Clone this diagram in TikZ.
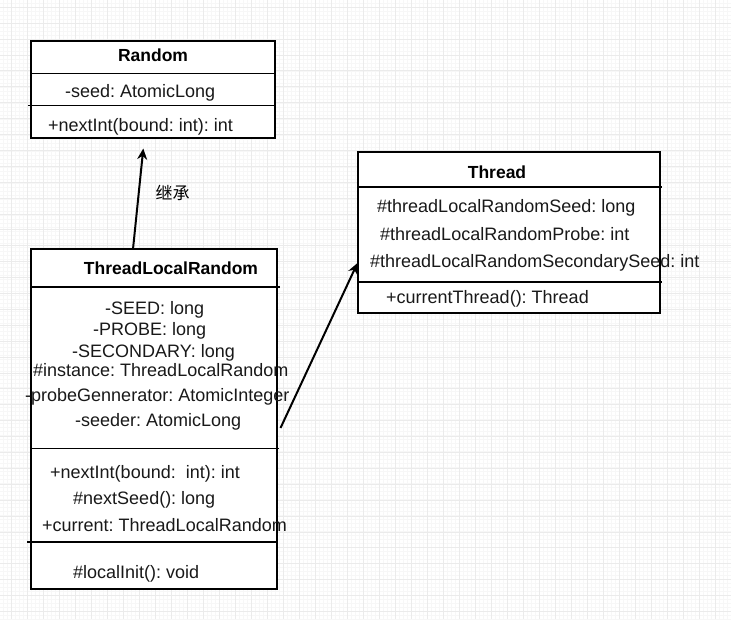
\documentclass[tikz,border=0pt]{standalone}
\usepackage{fontspec}
\setmainfont{Liberation Sans}
\newfontfamily\cjk{Noto Sans CJK SC}
\usetikzlibrary{arrows.meta}
\frenchspacing
\begin{document}
\begin{tikzpicture}[x=1pt,y=-1pt,
  umlbox/.style={draw=black,line width=2pt,fill=white,inner sep=0pt,minimum width=#1},
  sep/.style={draw=black,line width=1.6pt},
  txt/.style={anchor=base west,inner sep=0pt,font=\fontsize{18}{21}\selectfont\frenchspacing,text=black!90},
  ttl/.style={anchor=base,inner sep=0pt,font=\fontsize{17.5}{20}\selectfont\bfseries,text=black},
  arr/.style={draw=black,line width=2pt,-{Stealth[length=11pt,width=10pt]}},
  minorgrid/.style={draw=black!3,line width=0.5pt},
  majorgrid/.style={draw=black!8,line width=0.7pt}]
\useasboundingbox (0,0) rectangle (731,619);
\fill[white] (0,0) rectangle (731,619);
% background grid
\foreach \gx in {-0.3,3.7,...,731} {\draw[minorgrid] (\gx,0) -- (\gx,619);}
\foreach \gy in {3,7,...,619} {\draw[minorgrid] (0,\gy) -- (731,\gy);}
\foreach \gx in {11.7,27.7,...,731} {\draw[majorgrid] (\gx,0) -- (\gx,619);}
\foreach \gy in {7.2,23.1,...,619} {\draw[majorgrid] (0,\gy) -- (731,\gy);}

% Random
\node[umlbox=244pt,minimum height=97pt] (random) at (153,89.5) {};
\draw[sep] (random.west |- 0,73.5) -- (276,73.5);
\draw[sep] (28,105.5) -- (random.east |- 0,105.5);
\node[ttl] (randomT) at (153,61) {Random};
\node[txt] (randomA) at (65,97) {-seed: AtomicLong};
\node[txt] (randomM) at (48,131) {+nextInt(bound: int): int};

% ThreadLocalRandom
\node[umlbox=246pt,minimum height=340pt] (tlr) at (154,419) {};
\draw[sep] (tlr.west |- 0,287) -- (280,287);
\draw[sep] (tlr.west |- 0,448.5) -- (279,448.5);
\draw[sep] (27,542) -- (tlr.east |- 0,542);
\node[ttl] (tlrT) at (171,274) {ThreadLocalRandom};
\node[txt] (tlr1) at (105,314) {-SEED: long};
\node[txt] (tlr2) at (93,335) {-PROBE: long};
\node[txt] (tlr3) at (72,357) {-SECONDARY: long};
\node[txt] (tlr4) at (33,376) {\#instance: ThreadLocalRandom};
\node[txt] (tlr5) at (25,401) {-probeGennerator: AtomicInteger};
\node[txt] (tlr6) at (75,426) {-seeder: AtomicLong};
\node[txt] (tlr7) at (50,478) {+nextInt(bound:\ \ int): int};
\node[txt] (tlr8) at (73,504) {\#nextSeed(): long};
\node[txt] (tlr9) at (42,531) {+current: ThreadLocalRandom};
\node[txt] (tlr10) at (73,578) {\#localInit(): void};

% Thread
\node[umlbox=302pt,minimum height=161pt] (thread) at (509,232.5) {};
\draw[sep] (thread.west |- 0,187) -- (662,187);
\draw[sep] (thread.west |- 0,282) -- (662,282);
\node[ttl] (threadT) at (497,178) {Thread};
\node[txt] (th1) at (377,212) {\#threadLocalRandomSeed: long};
\node[txt] (th2) at (380,240) {\#threadLocalRandomProbe: int};
\node[txt] (th3) at (370,267) {\#threadLocalRandomSecondarySeed: int};
\node[txt] (th4) at (386,303) {+currentThread(): Thread};

% connectors
\coordinate (inhStart) at (133,249);
\coordinate (inhEnd) at (143.3,148.5);
\draw[arr] (inhStart) -- (inhEnd);
\node[inner sep=0pt,font=\cjk\fontsize{17}{20}\selectfont] (inhLabel) at (172.5,193) {继承};
\coordinate (useStart) at (280.5,428);
\coordinate (useEnd) at (357.5,263);
\draw[arr] (useStart) -- (useEnd);
\end{tikzpicture}
\end{document}
